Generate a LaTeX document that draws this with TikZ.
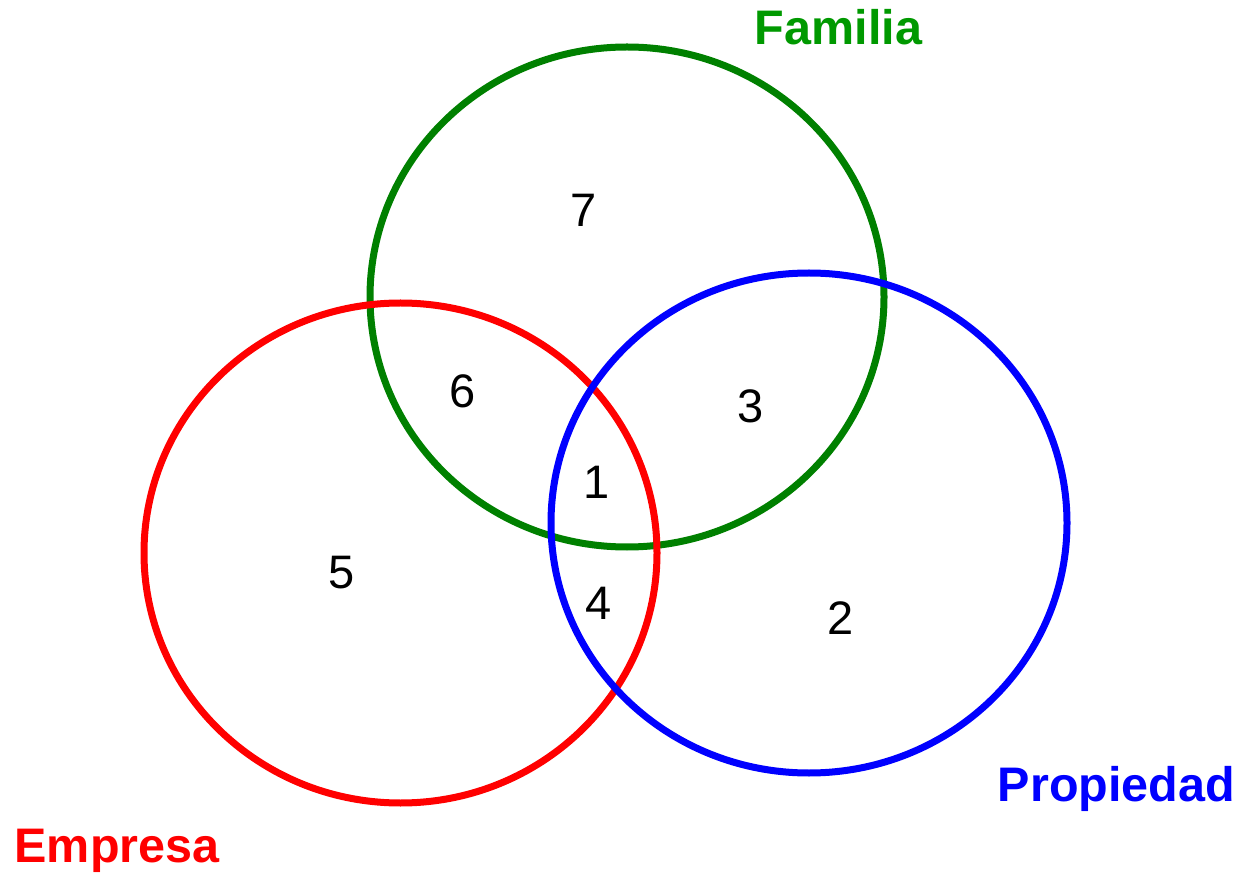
\documentclass[tikz,border=0pt]{standalone}
\usepackage{fontspec}
\setmainfont{Liberation Sans}
\definecolor{circgreen}{RGB}{0,128,0}
\definecolor{labgreen}{RGB}{0,153,0}
\definecolor{circred}{RGB}{255,0,0}
\definecolor{circblue}{RGB}{0,0,255}
\begin{document}
\begin{tikzpicture}[x=1pt,y=-1pt,
  ring/.style={line width=7pt},
  num/.style={inner sep=0pt,font=\fontsize{47}{47}\selectfont},
  lab/.style={inner sep=0pt,anchor=base,font=\fontsize{48.5}{48.5}\selectfont\bfseries}]
\useasboundingbox (0,0) rectangle (1243,874);
\draw[ring,circgreen] (627,297) ellipse [x radius=257, y radius=250];
\draw[ring,circred] (400.5,553) ellipse [x radius=256.5, y radius=250];
\draw[ring,circblue] (809,523) ellipse [x radius=258, y radius=250];
\node[num] (n7) at (583.5,210) {7};
\node[num] (n6) at (463,391.5) {6};
\node[num] (n3) at (750.5,406.5) {3};
\node[num] (n1) at (597,482.5) {1};
\node[num] (n4) at (599,603.5) {4};
\node[num] (n5) at (342,572.5) {5};
\node[num] (n2) at (841,618.5) {2};
\node[lab,text=labgreen] (fam) at (838.5,45) {Familia};
\node[lab,text=circblue] (pro) at (1116.5,801) {Propiedad};
\node[lab,text=circred] (emp) at (117,862) {Empresa};
\end{tikzpicture}
\end{document}
